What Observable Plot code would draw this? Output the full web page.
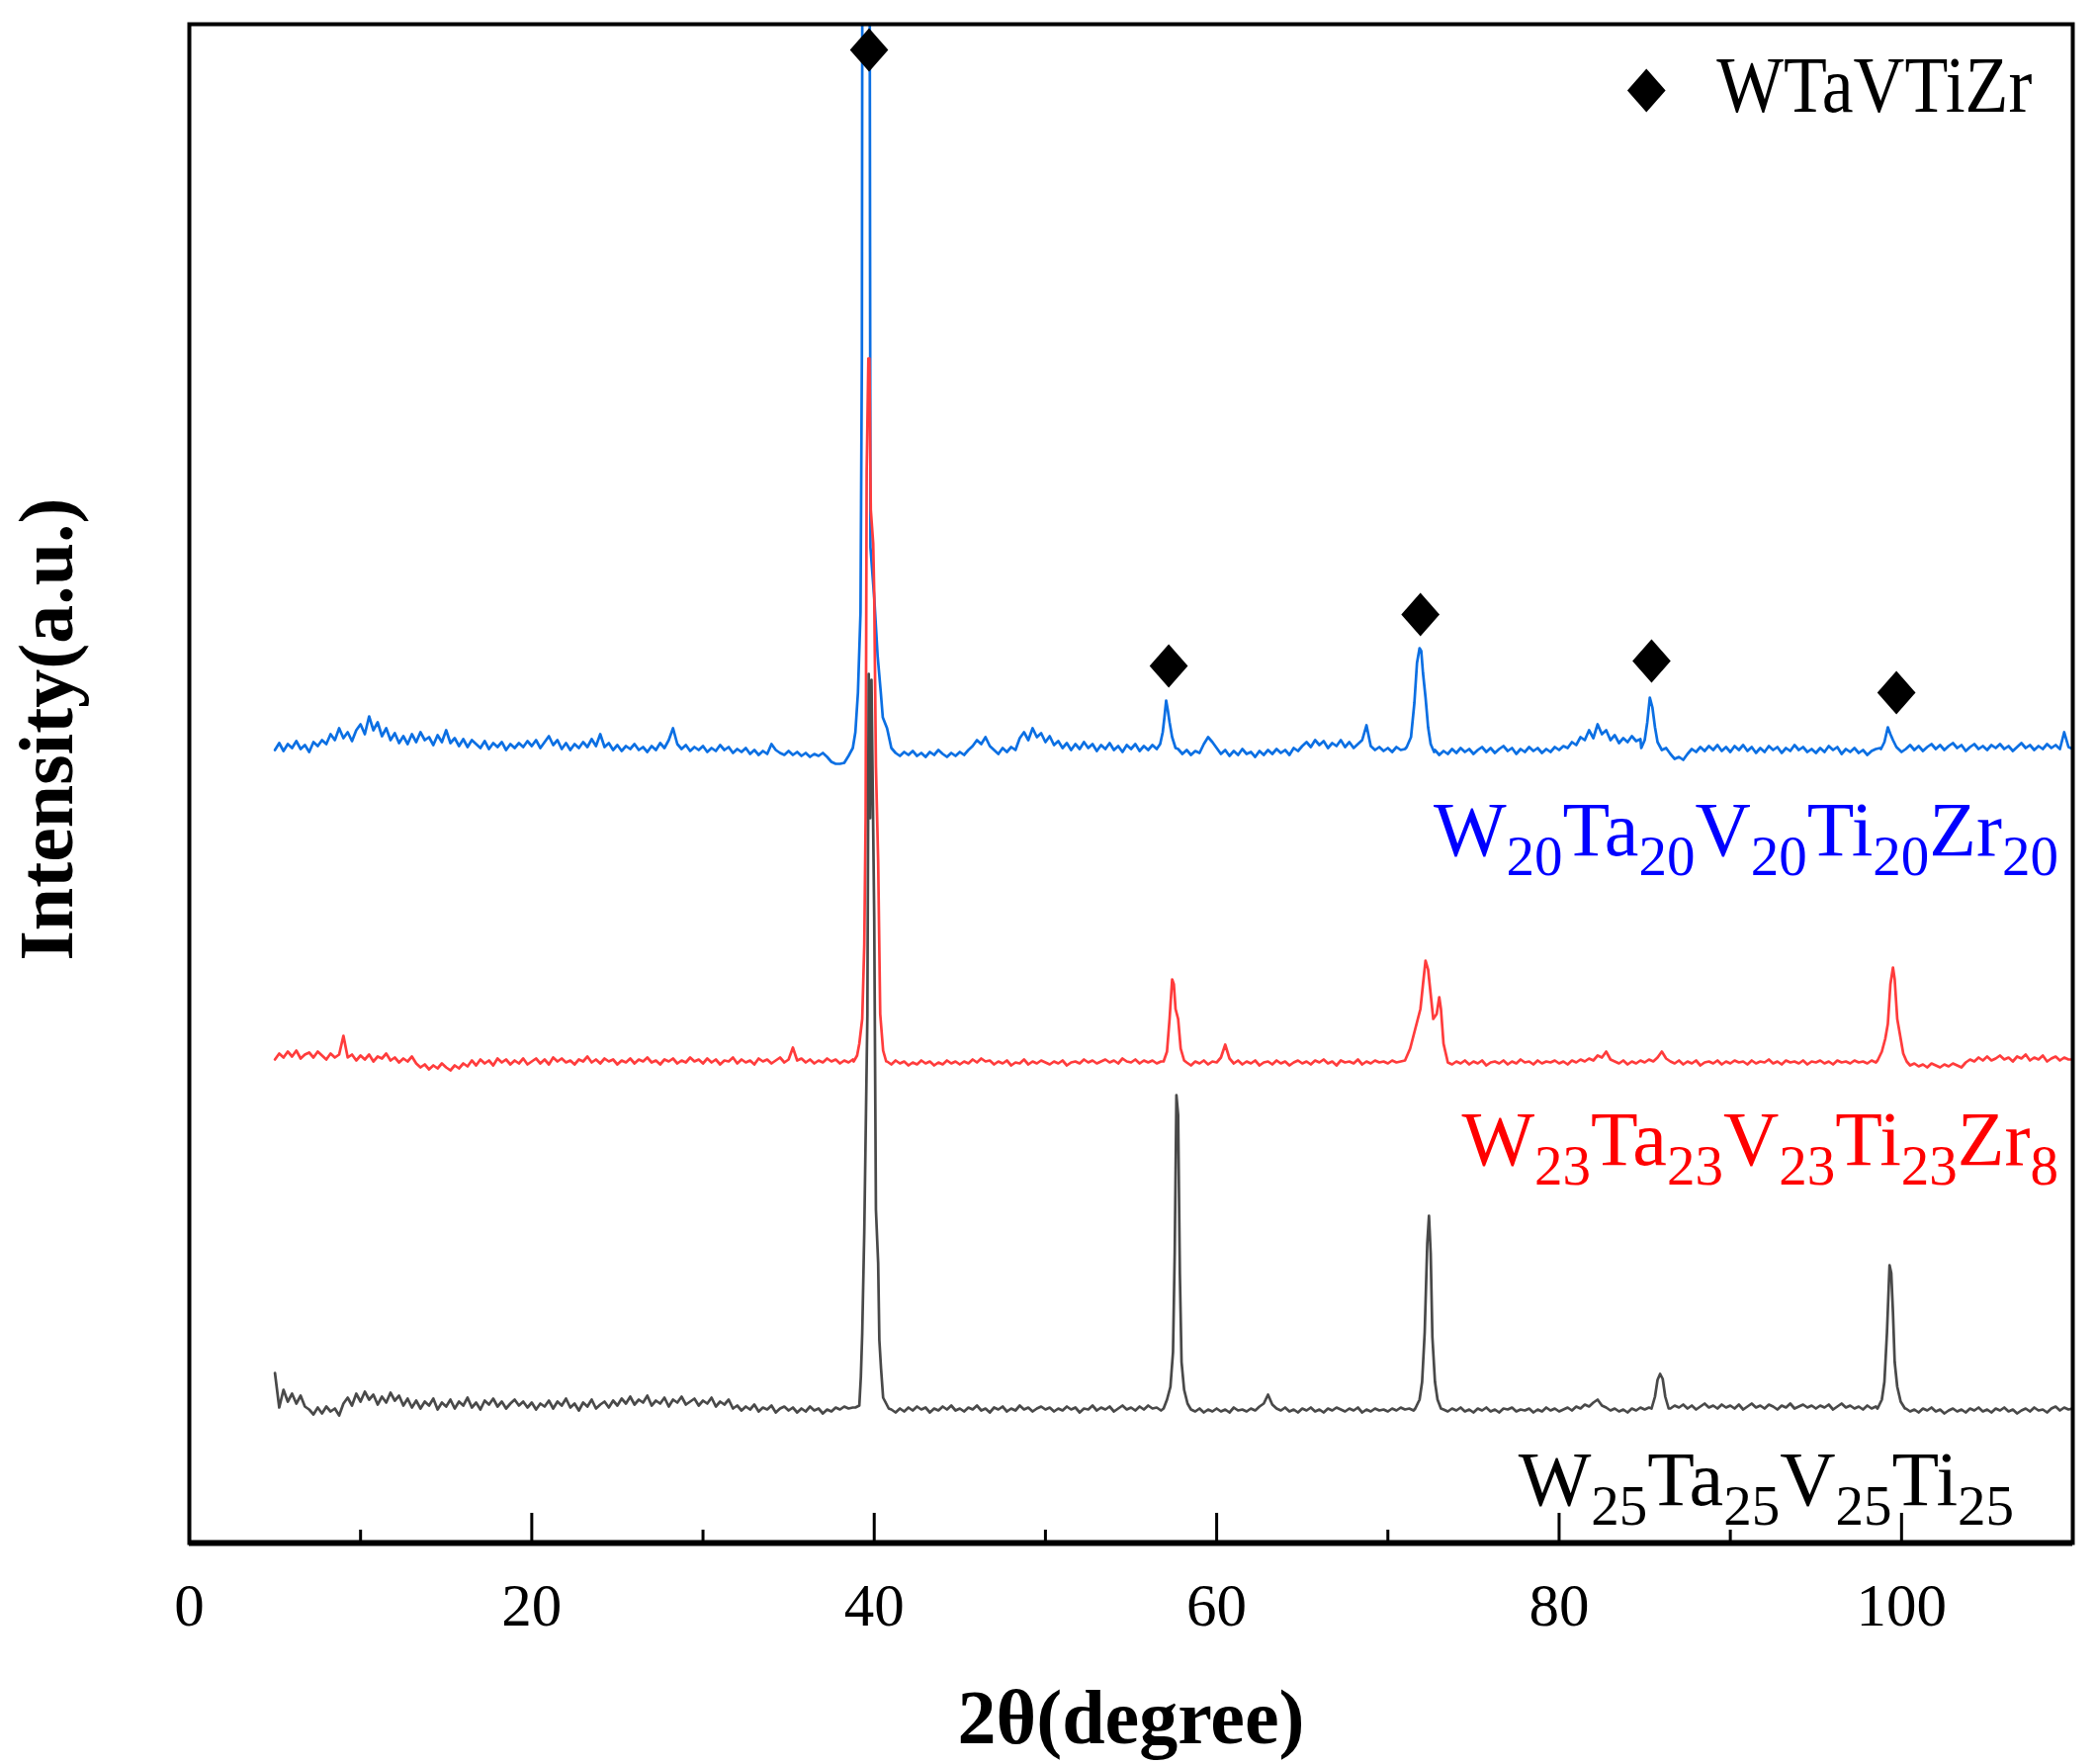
<!DOCTYPE html>
<html><head><meta charset="utf-8">
<script src="https://cdn.jsdelivr.net/npm/d3@7"></script>
<script src="https://cdn.jsdelivr.net/npm/@observablehq/plot@0.6"></script>
<style>html,body{margin:0;padding:0;background:#fff;} #chart{width:2120px;height:1784px;}</style>
</head><body><div id="chart"></div>
<script>
// ---- sampling grid of the baseline arrays (2θ, degrees) ----
const START = 5, STEP = 0.25;

// ---- W20Ta20V20Ti20Zr20 (blue) : baseline noise, offsets above its trace level ----
const blueLevel = 800;
const blueBase = [
2,9,1,8,4,11,3,7,0,10,6,12,8,18,12,24,14,20,11,22,
28,18,36,22,30,16,24,12,19,9,16,8,18,10,20,12,15,7,17,10,
22,9,14,6,13,5,12,8,4,11,3,9,5,10,2,8,4,9,5,11,
6,12,4,10,16,7,12,3,9,2,8,4,10,5,13,6,18,5,9,2,
7,1,6,3,8,2,5,0,6,2,9,4,12,24,8,3,7,1,5,2,
6,0,4,1,7,2,5,-1,3,0,4,-2,2,-3,1,-2,8,2,-1,-3,
1,-3,0,-4,-1,-5,-2,-4,-1,-5,-10,-12,-12,-11,-6,0,0,0,0,0,
0,0,0,0,0,-1,-4,0,-3,1,-4,-1,-5,0,-3,2,-2,-5,-1,-4,
0,-3,2,6,12,8,15,6,2,-2,4,0,5,2,14,20,12,24,15,19,
10,16,7,11,4,9,2,8,3,10,4,8,1,7,3,9,2,6,0,7,
3,8,1,6,2,7,0,0,0,0,0,3,-2,2,-3,1,-1,8,15,10,
4,-2,2,-4,1,-3,3,-2,0,-5,1,-3,2,-2,3,-1,2,-3,4,1,
6,10,5,12,7,11,4,9,6,12,5,10,4,8,12,27,6,2,5,1,
4,0,5,2,3,0,0,0,0,0,0,2,-3,1,-2,3,-1,4,0,3,
-2,2,5,0,4,-1,3,6,1,4,-2,3,0,5,1,4,-1,3,0,5,
2,6,4,10,7,15,12,22,14,28,18,22,12,17,9,14,10,16,11,13,
0,0,0,0,0,4,-2,-7,-5,-8,-2,3,0,5,1,6,2,7,1,5,
0,6,2,7,1,5,-1,4,0,6,2,5,-1,4,1,7,2,5,0,3,
-1,4,0,6,2,5,-2,3,0,4,-1,2,-3,1,3,4,0,0,0,0,
0,3,7,2,6,1,5,8,3,7,2,6,9,4,7,1,5,8,3,6,
2,7,4,8,3,6,1,5,9,4,7,2,6,3,8,4,7,3,20,5,
3];
const bluePeaks = [
  [[38.5,-4],[38.75,4],[38.9,20],[39.05,60],[39.2,141],[39.28,400],[39.32,1000],[39.72,1000],[39.78,207],[40.0,156],[40.2,97],[40.38,61],[40.5,35],[40.75,24],[41.0,4]],
  [[56.5,3],[56.7,8],[56.85,20],[56.95,35],[57.05,52],[57.15,42],[57.25,30],[57.4,15],[57.6,4]],
  [[71.1,5],[71.35,15],[71.55,50],[71.7,90],[71.85,105],[71.95,102],[72.05,80],[72.2,55],[72.35,25],[72.5,8],[72.7,0]],
  [[84.8,4],[85.0,12],[85.15,30],[85.3,55],[85.45,45],[85.6,25],[85.75,10],[86.0,2]],
  [[98.8,3],[99.0,10],[99.2,25],[99.35,18],[99.5,12],[99.7,5],[100.0,0]]
];

// ---- W23Ta23V23Ti23Zr8 (red) ----
const redLevel = 485;
const redBase = [
4,10,6,12,7,13,5,9,11,6,12,8,4,10,6,9,28,6,9,3,
8,4,9,2,7,5,10,3,6,1,5,2,7,0,-4,-1,-6,-2,-5,0,
-4,-7,-2,-5,0,-3,3,-2,4,0,3,-2,5,1,4,-1,3,0,5,-1,
2,5,0,4,-1,6,2,5,1,3,-1,4,2,7,1,4,0,5,2,4,
-1,3,1,5,0,4,2,6,1,3,-1,4,2,5,0,3,1,6,2,4,
0,5,1,4,-1,3,2,6,0,4,1,3,-1,5,2,4,0,3,6,1,
4,16,3,5,1,4,0,3,1,5,2,4,0,3,1,4,0,0,0,0,
0,0,0,2,-1,3,0,2,-2,1,-1,3,0,2,-2,1,-1,3,0,2,
-1,2,0,4,1,5,2,3,-1,2,0,3,-2,1,0,4,-1,2,0,3,
1,-1,2,0,3,-2,1,2,0,4,1,3,0,2,4,1,3,0,5,2,
1,4,0,3,1,3,0,2,0,0,0,0,0,1,-2,2,0,3,-1,2,
1,6,19,5,0,3,-1,2,0,3,-2,1,2,-1,3,0,2,-2,1,3,
0,2,-1,3,1,4,0,2,-2,3,1,2,0,4,-1,2,0,3,1,2,
0,3,1,2,0,0,0,0,0,0,0,0,0,0,1,-1,2,0,3,-1,
2,0,3,-2,1,2,0,3,-1,2,0,4,1,2,-1,3,0,2,1,3,
0,2,-1,3,1,4,2,5,3,8,6,12,4,2,0,3,-1,2,0,3,
1,4,2,6,12,5,2,0,3,-1,2,0,3,-2,1,2,0,3,-1,2,
0,3,1,2,-1,3,0,2,1,4,0,2,-1,3,1,2,0,3,-1,2,
1,3,0,2,-1,3,1,2,0,3,1,2,0,3,1,0,0,0,0,0,
0,0,-2,0,-3,-1,-4,0,-2,-4,-1,-3,0,-2,-4,1,4,2,6,3,
7,3,5,8,4,6,2,7,5,9,3,6,4,8,2,5,7,3,6,4,
4];
const redPeaks = [
  [[38.8,2],[39.0,8],[39.13,20],[39.3,45],[39.42,120],[39.5,250],[39.56,599],[39.66,713],[39.72,713],[39.8,560],[39.94,526],[40.0,475],[40.1,300],[40.23,204],[40.35,50],[40.52,13],[40.7,2]],
  [[56.9,2],[57.1,12],[57.25,45],[57.4,85],[57.5,80],[57.6,55],[57.75,45],[57.9,15],[58.1,3]],
  [[71.0,3],[71.3,15],[71.6,35],[71.9,55],[72.05,80],[72.2,104],[72.35,95],[72.5,70],[72.65,45],[72.85,50],[73.0,67],[73.1,55],[73.25,20],[73.45,5]],
  [[98.6,3],[98.85,12],[99.05,25],[99.2,40],[99.35,80],[99.5,97],[99.6,85],[99.75,45],[99.9,30],[100.1,10],[100.3,2]]
];

// ---- W25Ta25V25Ti25 (grey) ----
const greyLevel = 133;
const greyBase = [
39,4,22,10,18,8,16,5,2,-3,4,-2,5,0,3,-4,8,14,6,18,
10,20,12,17,7,15,9,19,11,16,6,13,4,11,3,10,6,13,2,9,
5,12,3,10,6,14,4,9,2,11,7,13,5,10,3,8,12,6,10,4,
9,2,8,5,11,3,10,6,13,4,8,1,9,5,12,3,7,10,4,11,
6,13,8,15,7,12,9,16,6,11,8,14,5,12,9,15,7,10,13,6,
11,8,14,5,10,7,12,3,6,1,5,2,7,0,4,2,6,-1,3,5,
1,4,-1,3,0,5,1,3,-2,2,0,4,2,5,3,4,0,0,0,0,
0,0,0,0,2,-1,3,0,4,1,5,2,4,-1,3,1,5,2,6,1,
3,0,4,2,6,1,3,-1,4,2,5,0,3,1,6,2,4,0,3,5,
2,4,0,3,1,5,2,4,-1,3,2,6,1,4,2,5,0,3,6,2,
4,1,5,2,6,3,4,1,0,0,0,0,0,0,0,0,3,-1,2,0,
3,0,2,-1,4,1,2,0,3,1,5,8,17,7,3,1,4,0,2,-1,
3,1,4,0,2,-1,3,1,4,2,0,3,1,4,-1,2,0,3,1,2,
0,3,1,4,2,3,1,0,0,0,0,0,0,2,0,3,1,4,0,2,
-1,3,1,4,0,2,-1,3,2,4,0,2,1,3,-1,2,0,4,1,3,
0,2,4,1,5,3,7,5,9,12,6,4,1,3,0,2,-1,3,1,4,
2,4,0,0,0,0,3,6,4,7,3,6,2,5,8,4,6,3,7,4,
6,3,7,2,5,8,4,6,3,7,5,2,6,4,8,3,5,7,4,6,
3,6,4,7,2,5,8,4,6,3,5,2,6,3,5,0,0,0,0,0,
0,3,0,2,-1,3,1,4,0,2,-2,1,3,0,2,-1,3,1,4,0,
2,-1,3,1,4,0,2,-2,1,3,0,4,1,2,-1,3,5,1,4,2,
3];
const greyPeaks = [
  [[38.9,4],[39.13,6],[39.22,35],[39.3,79],[39.42,182],[39.6,400],[39.68,746],[39.76,600],[39.84,740],[39.92,620],[40.0,500],[40.1,204],[40.23,150],[40.3,72],[40.4,43],[40.52,14],[40.85,3]],
  [[56.9,3],[57.1,12],[57.3,25],[57.45,60],[57.55,160],[57.65,320],[57.75,300],[57.85,140],[57.95,50],[58.1,22],[58.3,8],[58.5,2]],
  [[71.6,3],[71.85,12],[72.0,30],[72.15,80],[72.3,170],[72.4,198],[72.5,160],[72.6,75],[72.75,30],[72.9,12],[73.1,3]],
  [[85.4,3],[85.6,15],[85.75,32],[85.9,38],[86.05,33],[86.2,15],[86.4,3]],
  [[98.6,3],[98.85,12],[99.0,30],[99.15,80],[99.3,148],[99.4,140],[99.5,100],[99.6,50],[99.75,25],[99.95,10],[100.2,3]]
];

// ---- WTaVTiZr phase markers (2θ, intensity) ----
const markerX = [39.7, 57.2, 71.9, 85.4, 99.7];
const markerY = [1510, 887, 939, 892, 860];

// ---- axis ticks ----
const majorTicks = [0, 20, 40, 60, 80, 100];
const minorTicks = [10, 30, 50, 70, 90];

// ---- series labels ----
const labelBlue = [["W","20"],["Ta","20"],["V","20"],["Ti","20"],["Zr","20"]];
const labelRed  = [["W","23"],["Ta","23"],["V","23"],["Ti","23"],["Zr","8"]];
const labelGrey = [["W","25"],["Ta","25"],["V","25"],["Ti","25"]];

function build(level, base, peaks) {
  const pts = [];
  base.forEach((v, i) => {
    const x = START + i * STEP;
    if (!peaks.some(p => x >= p[0][0] && x <= p[p.length - 1][0])) pts.push({x, y: level + v});
  });
  peaks.forEach(p => p.forEach(([x, v]) => pts.push({x, y: level + v})));
  pts.sort((a, b) => a.x - b.x);
  return pts;
}
const blue = build(blueLevel, blueBase, bluePeaks);
const red = build(redLevel, redBase, redPeaks);
const grey = build(greyLevel, greyBase, greyPeaks);
const markers = markerX.map((x, i) => ({x, y: markerY[i]}));

const diamond = {
  draw(ctx, size) {
    const r = Math.sqrt(size / Math.PI);
    const w = r * 0.88;
    ctx.moveTo(0, -r); ctx.lineTo(w, 0); ctx.lineTo(0, r); ctx.lineTo(-w, 0); ctx.closePath();
  }
};

const FONT = "'Liberation Serif', 'Times New Roman', serif";

const chart = Plot.plot({
  width: 2120, height: 1784,
  marginLeft: 191, marginRight: 24, marginTop: 24, marginBottom: 224,
  style: {fontFamily: FONT, background: "#fff", color: "#000"},
  x: {domain: [0, 110]},
  y: {domain: [0, 1536], axis: null},
  marks: [
    Plot.line(blue, {x: "x", y: "y", stroke: "#0b6fe3", strokeWidth: 2.7, clip: true}),
    Plot.line(red, {x: "x", y: "y", stroke: "#ff3c3c", strokeWidth: 2.7, clip: true}),
    Plot.line(grey, {x: "x", y: "y", stroke: "#494949", strokeWidth: 2.7, clip: true}),
    Plot.dot(markers, {x: "x", y: "y", r: 22, symbol: diamond, fill: "#000", stroke: "none"}),
    Plot.ruleX(majorTicks, {y1: 0, y2: 30, stroke: "#000", strokeWidth: 3}),
    Plot.ruleX(minorTicks, {y1: 0, y2: 13, stroke: "#000", strokeWidth: 3}),
    Plot.frame({stroke: "#000", strokeWidth: 4}),
    Plot.ruleY([0], {stroke: "#000", strokeWidth: 6}),
    Plot.axisX({ticks: majorTicks, tickSize: 0, tickPadding: 40, fontSize: 61, tickFormat: d => String(d), label: null}),
    Plot.text(["2θ(degree)"], {frameAnchor: "bottom", dy: 178, textAnchor: "middle", lineAnchor: "middle", fontSize: 78, fontWeight: "bold"}),
    Plot.text(["Intensity(a.u.)"], {frameAnchor: "left", dx: -143, dy: -55, rotate: -90, textAnchor: "middle", lineAnchor: "middle", fontSize: 78, fontWeight: "bold"}),
    Plot.dot([{x: 85.1, y: 1469}], {x: "x", y: "y", r: 22, symbol: diamond, fill: "#000", stroke: "none"}),
    Plot.text([{x: 89.2, y: 1448}], {x: "x", y: "y", text: () => "WTaVTiZr", textAnchor: "start", lineAnchor: "bottom", fontSize: 81, className: "legend-label"})
  ]
});
document.getElementById("chart").appendChild(chart);

const lt = chart.querySelector(".legend-label text");
if (lt) { lt.setAttribute("textLength", "319"); lt.setAttribute("lengthAdjust", "spacingAndGlyphs"); }

const NS = "http://www.w3.org/2000/svg";
const X = chart.scale("x"), Y = chart.scale("y");
function formula(parts, xv, yv, color) {
  const t = document.createElementNS(NS, "text");
  t.setAttribute("x", X.apply(xv));
  t.setAttribute("y", Y.apply(yv));
  t.setAttribute("text-anchor", "end");
  t.setAttribute("font-family", FONT);
  t.setAttribute("font-size", "78");
  t.setAttribute("fill", color);
  let shifted = false;
  parts.forEach(([m, s]) => {
    const a = document.createElementNS(NS, "tspan");
    a.textContent = m;
    if (shifted) a.setAttribute("dy", "-20");
    t.appendChild(a);
    const b = document.createElementNS(NS, "tspan");
    b.textContent = s;
    b.setAttribute("font-size", "57");
    b.setAttribute("dy", "20");
    t.appendChild(b);
    shifted = true;
  });
  chart.appendChild(t);
}
formula(labelBlue, 109.19, 695, "#0000ff");
formula(labelRed, 109.19, 382, "#ff0000");
formula(labelGrey, 106.6, 38, "#000000");
</script>
</body></html>
